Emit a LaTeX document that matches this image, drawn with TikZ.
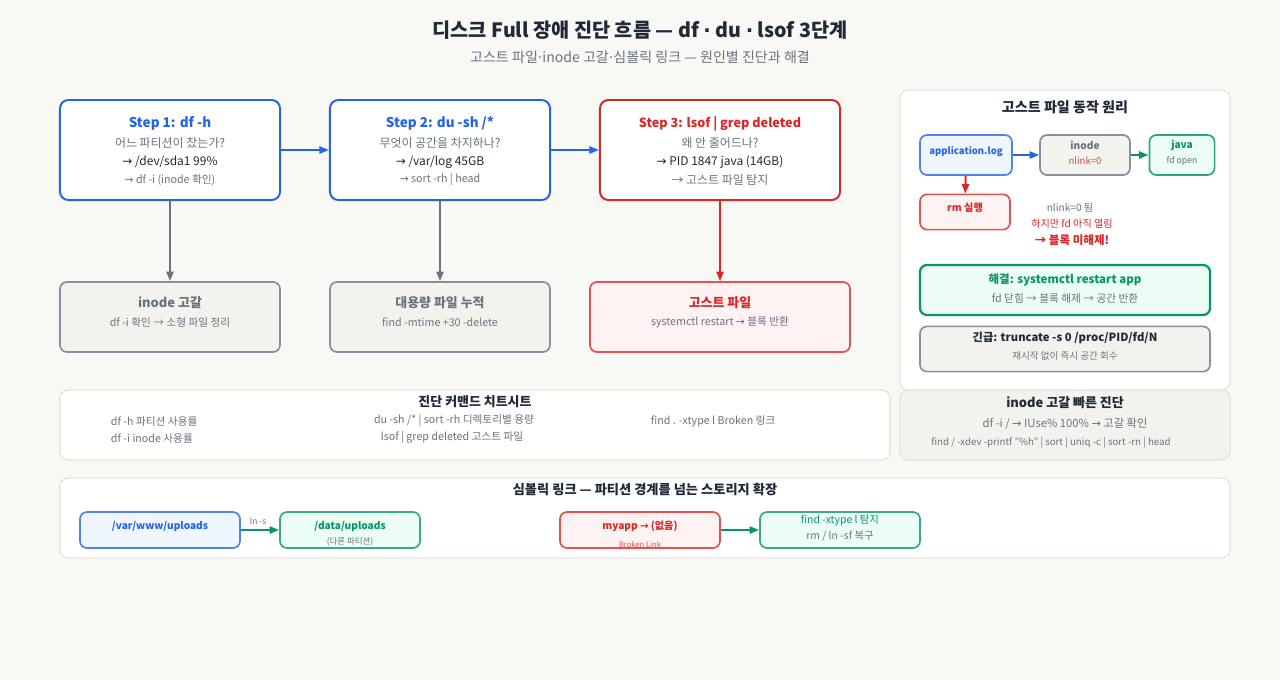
\documentclass[tikz,border=0pt]{standalone}
\usepackage{fontspec}
\setmainfont{Noto Sans CJK KR}
\newfontfamily\symfont{DejaVu Sans}
\usetikzlibrary{positioning,arrows.meta}
\usepackage{xcolor}
\definecolor{paper}{HTML}{F8F8F4}
\definecolor{ink}{HTML}{1F2937}
\definecolor{mute}{HTML}{6B7280}
\definecolor{cblue}{HTML}{2563EB}
\definecolor{cred}{HTML}{DC2626}
\definecolor{cgreen}{HTML}{059669}
\definecolor{cgray}{HTML}{8A8F99}
\definecolor{paleblue}{HTML}{EFF6FF}
\definecolor{palered}{HTML}{FEF2F2}
\definecolor{palegreen}{HTML}{ECFDF5}
\definecolor{palegray}{HTML}{F3F3EE}
\definecolor{rim}{HTML}{E6E6DC}
\newcommand{\fs}[1]{\fontsize{#1}{#1}\selectfont}
\newcommand{\sarr}{{\symfont →}}
\newcommand{\sdot}{{\symfont ·}}

\begin{document}
\begin{tikzpicture}[x=0.025cm,y=-0.025cm,>={Stealth[length=2.4mm,inset=0pt]},
  card/.style={draw,rounded corners=6pt,line width=1.4pt,fill=white},
  panel/.style={draw=rim,rounded corners=6pt,line width=1pt,fill=white},
  chip/.style={draw,rounded corners=5pt,line width=1.2pt},
  ttl/.style={font=\bfseries\fs{14},text=ink},
  hd/.style={font=\bfseries\fs{9.6}},
  ln/.style={font=\fs{8.5},text=mute},
  sm/.style={font=\fs{7.6},text=mute},
  tiny/.style={font=\fs{7.6},text=mute},
  flow/.style={->,line width=1.4pt}]
\fill[paper] (0,0) rectangle (1280,680);
\useasboundingbox (0,0) rectangle (1280,680);

% title
\node[ttl] (title) at (640,30) {디스크 Full 장애 진단 흐름 — df \sdot{} du \sdot{} lsof 3단계};
\node[font=\fs{10},text=mute] (subtitle) at (640,57) {고스트 파일\sdot inode 고갈\sdot 심볼릭 링크 — 원인별 진단과 해결};

% three steps
\node[card,draw=cblue,minimum width=5.5cm,minimum height=2.5cm] (step1) at (170,150) {};
\node[hd,text=cblue] at (170,123) {Step 1: df -h};
\node[ln] at (170,143) {어느 파티션이 찼는가?};
\node[ln,text=ink] at (170,162) {\sarr{} /dev/sda1 99\%};
\node[sm] at (170,180) {\sarr{} df -i (inode 확인)};

\node[card,draw=cblue,minimum width=5.5cm,minimum height=2.5cm] (step2) at (440,150) {};
\node[hd,text=cblue] at (440,123) {Step 2: du -sh /*};
\node[ln] at (440,143) {무엇이 공간을 차지하나?};
\node[ln,text=ink] at (440,162) {\sarr{} /var/log 45GB};
\node[sm] at (440,180) {\sarr{} sort -rh | head};

\node[card,draw=cred,minimum width=6cm,minimum height=2.5cm] (step3) at (720,150) {};
\node[hd,text=cred,font=\bfseries\fs{9}] at (720,124) {Step 3: lsof | grep deleted};
\node[ln] at (720,143) {왜 안 줄어드나?};
\node[ln,text=ink] at (720,162) {\sarr{} PID 1847 java (14GB)};
\node[ln] at (720,180) {→ 고스트 파일 탐지};

\draw[flow,cblue] (step1) -- (step2);
\draw[flow,cblue] (step2) -- (step3);

% causes
\node[chip,draw=cgray,fill=palegray,minimum width=5.5cm,minimum height=1.75cm] (inode) at (170,317) {};
\node[hd,text=mute,font=\bfseries\fs{9.2}] at (170,303) {inode 고갈};
\node[sm] at (170,322) {df -i 확인 → 소형 파일 정리};

\node[chip,draw=cgray,fill=palegray,minimum width=5.5cm,minimum height=1.75cm] (bigfile) at (440,317) {};
\node[hd,text=mute,font=\bfseries\fs{9.2}] at (440,303) {대용량 파일 누적};
\node[sm] at (440,322) {find -mtime +30 -delete};

\node[chip,draw=cred!80,fill=palered,minimum width=6.5cm,minimum height=1.75cm] (ghost) at (720,317) {};
\node[hd,text=cred,font=\bfseries\fs{9.2}] at (720,303) {고스트 파일};
\node[sm] at (720,322) {systemctl restart \sarr{} 블록 반환};

\draw[flow,mute] (step1) -- (inode);
\draw[flow,mute] (step2) -- (bigfile);
\draw[flow,cred] (step3) -- (ghost);

% ghost file panel
\node[panel,minimum width=8.25cm,minimum height=7.5cm] (ghostpanel) at (1065,240) {};
\node[hd,text=ink,font=\bfseries\fs{10}] at (1065,107) {고스트 파일 동작 원리};
\node[chip,draw=cblue!80,fill=paleblue,minimum width=2.3cm,minimum height=1cm] (applog) at (966,155) {};
\node[font=\bfseries\fs{6.8},text=cblue] at (966,152) {application.log};
\node[chip,draw=cgray,fill=palegray,minimum width=2.25cm,minimum height=1cm] (inodebox) at (1085,155) {};
\node[font=\bfseries\fs{7.2},text=mute] at (1085,145) {inode};
\node[font=\fs{6.8},text=cred!85] at (1085,161) {nlink=0};
\node[chip,draw=cgreen!85,fill=palegreen,minimum width=1.63cm,minimum height=1cm] (java) at (1182,155) {};
\node[font=\bfseries\fs{7.2},text=cgreen] at (1182,145) {java};
\node[font=\fs{6.2},text=mute] at (1182,161) {fd open};
\node[chip,draw=cred!80,fill=palered,minimum width=2.25cm,minimum height=0.88cm] (rm) at (965,212) {};
\node[font=\bfseries\fs{7.2},text=cred] at (965,208) {rm 실행};
\node[font=\fs{7.2},text=mute] at (1070,208) {nlink=0 됨};
\node[font=\fs{7.2},text=cred] at (1072,224) {하지만 fd 아직 열림};
\node[font=\bfseries\fs{8.2},text=cred] at (1072,240) {→ 블록 미해제!};
\draw[flow,cblue] (applog) -- (inodebox);
\draw[flow,cgreen] (inodebox) -- (java);
\draw[flow,cred] (applog) -- (rm);

\node[chip,draw=cgreen,fill=palegreen,line width=1.6pt,minimum width=7.25cm,minimum height=1.25cm] (fix) at (1065,290) {};
\node[font=\bfseries\fs{8.2},text=cgreen] at (1065,280) {해결: systemctl restart app};
\node[font=\fs{7.6},text=mute] at (1065,298) {fd 닫힘 → 블록 해제 → 공간 반환};
\node[chip,draw=cgray,fill=palegray,minimum width=7.25cm,minimum height=1.13cm] (urgent) at (1065,349) {};
\node[font=\bfseries\fs{8},text=ink] at (1065,338) {긴급: truncate -s 0 /proc/PID/fd/N};
\node[font=\fs{6.8},text=mute] at (1065,356) {재시작 없이 즉시 공간 회수};

% inode quick check
\node[panel,fill=palegray,minimum width=8.25cm,minimum height=1.75cm] (quick) at (1065,425) {};
\node[hd,text=ink,font=\bfseries\fs{9.2}] at (1065,403) {inode 고갈 빠른 진단};
\node[font=\fs{8},text=mute] at (1065,424) {df -i / \sarr{} IUse\% 100\% \sarr{} 고갈 확인};
\node[font=\fs{6.9},text=mute] at (1051,443) {find / -xdev -printf "\%h" | sort | uniq -c | sort -rn | head};

% cheat sheet
\node[panel,minimum width=20.75cm,minimum height=1.75cm] (cheat) at (475,425) {};
\node[font=\bfseries\fs{9.2},text=ink] at (475,402) {진단 커맨드 치트시트};
\node[tiny,anchor=west] at (106,421) {df -h 파티션 사용률};
\node[tiny,anchor=west] at (106,438) {df -i inode 사용률};
\node[tiny] at (454,421) {du -sh /* | sort -rh 디렉토리별 용량};
\node[tiny] at (452,438) {lsof | grep deleted 고스트 파일};
\node[tiny,anchor=west] at (646,421) {find . -xtype l Broken 링크};

% symlink panel
\node[panel,minimum width=29.25cm,minimum height=2cm] (symlink) at (645,518) {};
\node[font=\bfseries\fs{9.4},text=ink] at (645,490) {심볼릭 링크 — 파티션 경계를 넘는 스토리지 확장};
\node[chip,draw=cblue!80,fill=paleblue,minimum width=4cm,minimum height=0.9cm] (varwww) at (160,530) {};
\node[font=\bfseries\fs{7.2},text=cblue] at (160,526) {/var/www/uploads};
\node[chip,draw=cgreen!80,fill=palegreen,minimum width=3.5cm,minimum height=0.9cm] (datauploads) at (350,530) {};
\node[font=\bfseries\fs{7.2},text=cgreen] at (350,526) {/data/uploads};
\node[font=\fs{6},text=mute] at (350,542) {(다른 파티션)};
\draw[flow,cgreen] (varwww) -- node[above,font=\fs{6},text=mute,pos=0.45] {ln -s} (datauploads);

\node[chip,draw=cred!80,fill=palered,minimum width=4cm,minimum height=0.9cm] (myapp) at (640,530) {};
\node[font=\bfseries\fs{7.2},text=cred] at (640,526) {myapp \sarr{} (없음)};
\node[font=\fs{5.4},text=cred!80] at (640,545) {Broken Link};
\node[chip,draw=cgreen!80,fill=palegreen,minimum width=4cm,minimum height=0.9cm] (findfix) at (840,530) {};
\node[font=\fs{7.4},text=cgreen] at (840,520) {find -xtype l 탐지};
\node[font=\fs{7.4},text=mute] at (840,536) {rm / ln -sf 복구};
\draw[flow,cgreen] (myapp) -- (findfix);
\end{tikzpicture}
\end{document}
